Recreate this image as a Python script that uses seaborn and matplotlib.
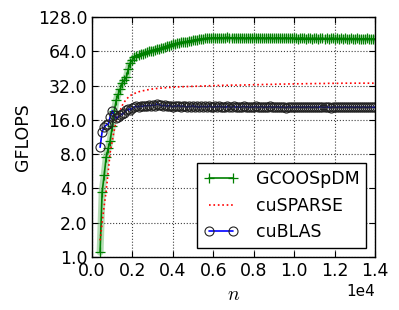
import matplotlib
matplotlib.use("Agg")
import matplotlib.pyplot as plt
from matplotlib.ticker import FormatStrFormatter, NullLocator
import numpy as np
import pandas as pd
import seaborn as sns

# matrix size n (400 .. 14000, step 100)
n_values = np.arange(400, 14001, 100)

gcoospdm = [
    1.1, 3.7, 5.2, 7.5, 9.0, 10.5, 14.0, 19.0, 24.0, 27.0,
    30.0, 34.0, 36.0, 38.0, 45.0, 51.0, 54.0, 57.0, 58.0, 59.0,
    61.0, 61.0, 62.0, 63.0, 64.0, 65.0, 65.0, 66.0, 67.0, 67.0,
    68.0, 69.0, 70.0, 71.0, 72.0, 73.0, 74.0, 74.0, 75.0, 76.0,
    77.0, 77.0, 78.0, 78.0, 79.0, 79.0, 80.0, 81.0, 81.0, 82.0,
    82.0, 82.5, 83.0, 83.5, 84.0, 83.0, 84.5, 84.0, 83.5, 84.5,
    84.0, 83.0, 84.5, 85.0, 84.0, 83.5, 84.0, 84.5, 83.5, 84.0,
    84.5, 84.0, 83.0, 84.0, 84.5, 83.5, 84.0, 83.5, 84.5, 84.0,
    83.5, 84.0, 83.0, 84.0, 84.5, 83.5, 83.0, 84.0, 83.5, 84.0,
    83.0, 83.5, 84.0, 83.0, 83.5, 84.0, 83.0, 83.5, 82.5, 83.5,
    84.0, 83.0, 82.5, 83.5, 83.0, 82.5, 83.5, 83.0, 82.5, 83.0,
    83.5, 82.5, 83.0, 82.5, 83.0, 83.5, 82.5, 83.0, 82.0, 83.0,
    82.5, 83.0, 82.0, 82.5, 83.0, 82.0, 82.5, 83.0, 82.0, 82.5,
    82.0, 82.5, 83.0, 82.0, 82.5, 82.0, 82.0,
]

cusparse = [
    1.4, 2.0, 2.8, 3.8, 5.6, 8.3, 10.5, 13.0, 15.5, 17.5,
    19.5, 21.5, 23.0, 24.3, 25.3, 26.2, 26.8, 27.3, 27.8, 28.2,
    28.5, 28.8, 29.0, 29.3, 29.5, 29.7, 29.9, 30.0, 30.2, 30.3,
    30.4, 30.5, 30.6, 30.7, 30.8, 30.9, 31.0, 31.0, 31.1, 31.2,
    31.2, 31.3, 31.3, 31.4, 31.4, 31.5, 31.5, 31.6, 31.6, 31.7,
    31.7, 31.8, 31.8, 31.9, 31.9, 32.0, 32.0, 32.0, 32.1, 32.1,
    32.1, 32.2, 32.2, 32.2, 32.2, 32.3, 32.3, 32.3, 32.3, 32.3,
    32.4, 32.4, 32.4, 32.5, 32.5, 32.5, 32.6, 32.6, 32.6, 32.7,
    32.7, 32.7, 32.8, 32.8, 32.8, 32.8, 32.9, 32.9, 32.9, 33.0,
    33.0, 33.0, 33.0, 33.1, 33.1, 33.1, 33.1, 33.2, 33.2, 33.2,
    33.2, 33.2, 33.3, 33.3, 33.3, 33.3, 33.3, 33.4, 33.4, 33.4,
    33.4, 33.4, 33.4, 33.5, 33.5, 33.5, 33.5, 33.5, 33.5, 33.5,
    33.6, 33.6, 33.6, 33.6, 33.6, 33.6, 33.6, 33.6, 33.6, 33.6,
    33.6, 33.6, 33.6, 33.6, 33.6, 33.6, 33.6,
]

cublas = [
    9.2, 12.6, 13.8, 14.4, 14.6, 17.0, 19.2, 17.5, 16.5, 17.0,
    17.6, 18.0, 18.5, 19.5, 20.0, 19.5, 20.3, 20.8, 21.0, 20.8,
    21.2, 21.0, 21.4, 21.2, 21.5, 21.3, 21.6, 21.4, 22.0, 21.8,
    21.5, 21.2, 21.6, 21.0, 21.4, 21.2, 20.8, 21.3, 21.0, 21.4,
    20.9, 21.2, 21.0, 20.7, 21.1, 20.9, 21.3, 20.8, 21.0, 20.6,
    21.1, 20.8, 21.0, 20.7, 21.2, 20.9, 20.6, 21.0, 20.8, 21.1,
    20.7, 20.9, 20.6, 21.0, 20.8, 20.6, 21.0, 20.7, 20.9, 20.6,
    20.8, 21.0, 20.7, 20.9, 20.6, 20.8, 20.7, 21.0, 20.6, 20.8,
    20.9, 20.6, 20.8, 20.7, 21.0, 20.6, 20.8, 20.7, 20.9, 20.6,
    20.8, 20.7, 20.5, 20.9, 20.7, 20.6, 20.8, 20.7, 20.9, 20.6,
    20.7, 20.8, 20.6, 20.9, 20.7, 20.6, 20.8, 20.7, 20.6, 20.9,
    20.7, 20.6, 20.8, 20.7, 20.5, 20.8, 20.7, 20.6, 20.8, 20.7,
    20.6, 20.8, 20.7, 20.6, 20.8, 20.7, 20.6, 20.8, 20.7, 20.6,
    20.8, 20.7, 20.6, 20.7, 20.8, 20.6, 20.7,
]

y_ticks = [1, 2, 4, 8, 16, 32, 64, 128]
x_ticks = [0, 2000, 4000, 6000, 8000, 10000, 12000, 14000]

df = pd.DataFrame({
    "n": n_values,
    "GCOOSpDM": gcoospdm,
    "cuSPARSE": cusparse,
    "cuBLAS": cublas,
})

sns.set_style("ticks")
plt.rcParams["font.family"] = ["DejaVu Sans"]
plt.rcParams["font.size"] = 12.5
plt.rcParams["mathtext.fontset"] = "cm"
plt.rcParams["text.color"] = "black"
plt.rcParams["axes.labelcolor"] = "black"
plt.rcParams["xtick.color"] = "black"
plt.rcParams["ytick.color"] = "black"

fig = plt.figure(figsize=(3.99, 3.10), dpi=100)
ax = fig.add_axes([0.2306, 0.171, 0.7094, 0.774])

# light band under the GCOOSpDM curve
sns.lineplot(data=df, x="n", y="GCOOSpDM", ax=ax, color="#2ca02c",
             linewidth=5, alpha=0.35, legend=False)
sns.lineplot(data=df, x="n", y="GCOOSpDM", ax=ax, color="green",
             linewidth=1.2, marker="+", markersize=7, mew=0.9,
             mec="green", label="GCOOSpDM")
sns.lineplot(data=df, x="n", y="cuSPARSE", ax=ax, color="red",
             linewidth=1.2, linestyle=":", label="cuSPARSE")
sns.lineplot(data=df, x="n", y="cuBLAS", ax=ax, color="blue",
             linewidth=1.2, marker="o", markersize=6.5, mfc="none",
             mec="#222222", mew=0.8, label="cuBLAS")

ax.set_yscale("log", base=2)
ax.set_ylim(1, 128)
ax.set_yticks(y_ticks)
ax.yaxis.set_major_formatter(FormatStrFormatter("%.1f"))
ax.yaxis.set_minor_locator(NullLocator())

ax.set_xlim(0, 14000)
ax.set_xticks(x_ticks)
ax.ticklabel_format(style="sci", axis="x", scilimits=(0, 0))
ax.xaxis.get_offset_text().set_fontsize(11)

ax.grid(True, linestyle=":", color="0.25", linewidth=0.8)
ax.tick_params(direction="in", top=True, right=True, labelsize=12.5, length=4)
for sp in ax.spines.values():
    sp.set_color("black")
    sp.set_linewidth(1.0)

ax.set_xlabel("$n$", fontsize=14)
ax.set_ylabel("GFLOPS", fontsize=12.5)

leg = ax.legend(loc="lower right", numpoints=2, fancybox=False,
                framealpha=1, edgecolor="black", fontsize=12.5,
                handlelength=2.0, handletextpad=1.0, borderaxespad=0.5)
leg.get_frame().set_linewidth(1.0)

fig.savefig("out.png", dpi=100)
